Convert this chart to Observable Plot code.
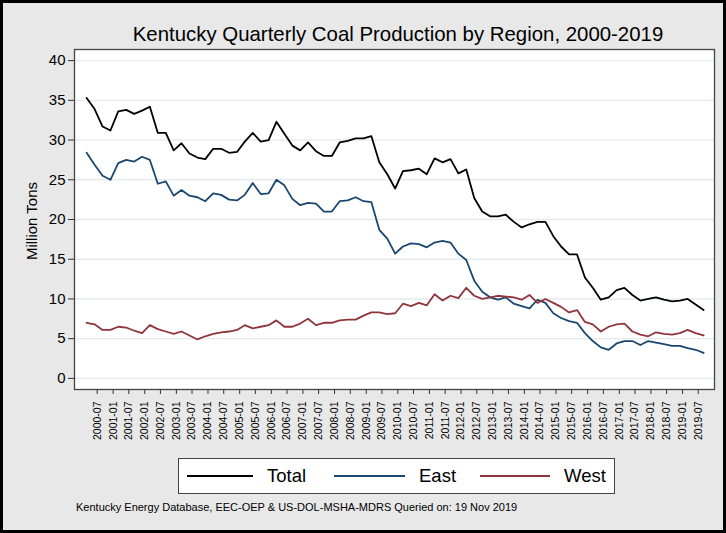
<!DOCTYPE html>
<html><head><meta charset="utf-8">
<script src="https://cdn.jsdelivr.net/npm/d3@7"></script>
<script src="https://cdn.jsdelivr.net/npm/@observablehq/plot@0.6"></script>
<style>
html,body{margin:0;padding:0;background:#fff}
#wrap{position:relative;width:726px;height:533px;background:#e8e8e8;overflow:hidden;font-family:"Liberation Sans",Arial,sans-serif;color:#000}
#outline{position:absolute;left:0;top:0;width:726px;height:533px;box-sizing:border-box;border:3px solid #000;pointer-events:none;z-index:5}
#title{position:absolute;left:78px;width:640px;top:21px;text-align:center;font-size:20.4px;line-height:26px}
#chart{position:absolute;left:0;top:0}
#ylab{position:absolute;left:31px;top:221px;transform:translate(-50%,-50%) rotate(-90deg);font-size:15px;white-space:nowrap}
#legend{position:absolute;left:178px;top:458px;width:437px;height:36px;box-sizing:border-box;background:#fff;border:1.5px solid #444}
#caption{position:absolute;left:76px;top:501px;font-size:11px;white-space:nowrap}
</style></head>
<body><div id="wrap">
<div id="chart"></div>
<div id="title">Kentucky Quarterly Coal Production by Region, 2000-2019</div>
<div id="ylab">Million Tons</div>
<div id="legend"></div>
<div id="caption">Kentucky Energy Database, EEC-OEP &amp; US-DOL-MSHA-MDRS Queried on: 19 Nov 2019</div>
<div id="outline"></div>
</div>
<script>
const seriesNames = ["Total", "East", "West"];
const seriesColors = ["#000000", "#1a476f", "#90353b"];
const firstQuarterMonth = "2000-03";

const totalValues = [35.3,33.9,31.7,31.2,33.6,33.8,33.3,33.7,34.2,30.9,30.9,28.7,29.6,28.3,27.8,27.6,28.9,28.9,28.4,28.5,
  29.8,30.9,29.8,30.0,32.3,30.8,29.3,28.7,29.7,28.6,28.0,28.0,29.7,29.9,30.2,30.2,30.5,27.2,25.7,23.9,
  26.1,26.2,26.4,25.7,27.7,27.2,27.6,25.8,26.3,22.7,21.0,20.4,20.4,20.6,19.7,19.0,19.4,19.7,19.7,17.9,
  16.6,15.6,15.6,12.7,11.4,9.9,10.2,11.1,11.4,10.5,9.8,10.0,10.2,9.9,9.7,9.8,10.0,9.3,8.6];
const eastValues = [28.4,26.9,25.5,25.0,27.1,27.5,27.3,27.9,27.5,24.5,24.8,23.0,23.7,23.0,22.8,22.3,23.3,23.1,22.5,22.4,
  23.1,24.6,23.2,23.3,25.0,24.3,22.6,21.8,22.1,22.0,21.0,21.0,22.3,22.4,22.8,22.3,22.2,18.7,17.6,15.7,
  16.6,17.0,16.9,16.5,17.1,17.3,17.1,15.7,14.9,12.3,10.9,10.2,9.9,10.2,9.4,9.1,8.8,9.9,9.5,8.2,
  7.6,7.2,7.0,5.7,4.7,3.9,3.6,4.4,4.7,4.7,4.2,4.7,4.5,4.3,4.1,4.1,3.8,3.6,3.2];
const westValues = [7.0,6.8,6.1,6.1,6.5,6.4,6.0,5.7,6.7,6.2,5.9,5.6,5.9,5.4,4.9,5.3,5.6,5.8,5.9,6.1,
  6.7,6.3,6.5,6.7,7.3,6.5,6.5,6.9,7.5,6.7,7.0,7.0,7.3,7.4,7.4,7.9,8.3,8.3,8.1,8.2,
  9.4,9.1,9.5,9.2,10.6,9.8,10.4,10.1,11.4,10.4,10.0,10.2,10.4,10.3,10.2,9.9,10.5,9.5,10.0,9.5,
  9.0,8.3,8.6,7.1,6.8,5.9,6.5,6.8,6.9,5.9,5.5,5.3,5.8,5.6,5.5,5.7,6.1,5.7,5.4];

const xTickLabels = ["2000-07","2001-01","2001-07","2002-01","2002-07","2003-01","2003-07","2004-01","2004-07","2005-01",
  "2005-07","2006-01","2006-07","2007-01","2007-07","2008-01","2008-07","2009-01","2009-07","2010-01",
  "2010-07","2011-01","2011-07","2012-01","2012-07","2013-01","2013-07","2014-01","2014-07","2015-01",
  "2015-07","2016-01","2016-07","2017-01","2017-07","2018-01","2018-07","2019-01","2019-07"];
const yTicks = [0, 5, 10, 15, 20, 25, 30, 35, 40];

const parseMonth = d3.utcParse("%Y-%m");
const start = parseMonth(firstQuarterMonth);
const rows = [];
[totalValues, eastValues, westValues].forEach((vals, s) => {
  vals.forEach((v, i) => rows.push({series: seriesNames[s], date: d3.utcMonth.offset(start, 3 * i), value: v}));
});
const xTicks = xTickLabels.map(parseMonth);
const fmt = d3.utcFormat("%Y-%m");

const chart = Plot.plot({
  width: 726, height: 450,
  marginTop: 49, marginBottom: 61, marginLeft: 74, marginRight: 12,
  style: {background: "transparent", fontFamily: "'Liberation Sans', Arial, sans-serif", color: "#000", overflow: "visible"},
  x: {type: "utc", domain: [new Date(Date.UTC(1999, 9, 13)), new Date(Date.UTC(2020, 0, 5))]},
  y: {domain: [-1.4, 41.4]},
  color: {domain: seriesNames, range: seriesColors},
  marks: [
    Plot.frame({fill: "#fff"}),
    Plot.ruleY(yTicks, {stroke: "#e3ebf0", strokeWidth: 1.4}),
    Plot.line(rows, {x: "date", y: "value", stroke: "series", z: "series", strokeWidth: 1.8}),
    Plot.frame({stroke: "#444", strokeWidth: 1.3}),
    Plot.axisY({ticks: yTicks, tickSize: 6, tickPadding: 3, fontSize: 15, label: null, stroke: "#333"}),
    Plot.axisX({ticks: xTicks, tickFormat: fmt, tickRotate: -90, tickSize: 5, tickPadding: 7, fontSize: 10.5, label: null, stroke: "#333"})
  ]
});
document.getElementById("chart").appendChild(chart);

// legend
const legend = document.getElementById("legend");
const lx = [8, 155, 301];
const lw = [66, 71, 70];
seriesNames.forEach((name, i) => {
  const sw = document.createElement("div");
  sw.style.cssText = `position:absolute;left:${lx[i]}px;top:16px;width:${lw[i]}px;height:2px;background:${seriesColors[i]}`;
  legend.appendChild(sw);
  const t = document.createElement("div");
  t.textContent = name;
  t.style.cssText = `position:absolute;left:${lx[i] + lw[i] + 14}px;top:5px;font-size:18.5px;line-height:24px`;
  legend.appendChild(t);
});
</script>
</body></html>
